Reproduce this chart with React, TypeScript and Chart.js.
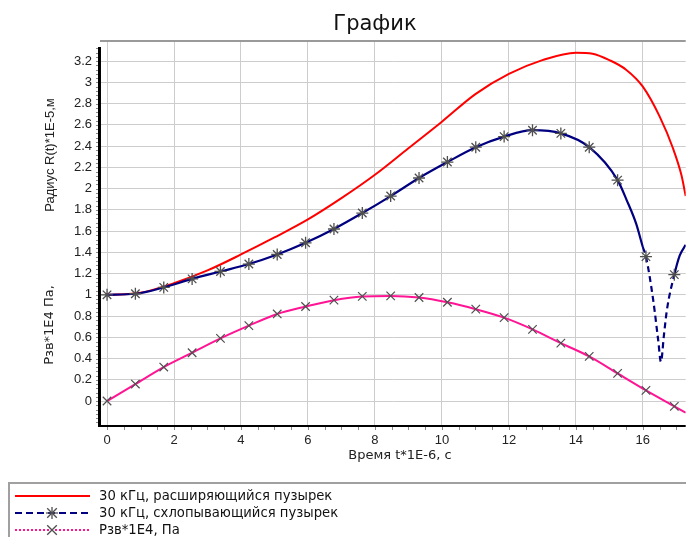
import React, { useEffect, useRef } from "react";
import { Chart, registerables } from "chart.js";

Chart.register(...registerables);

const TITLE = "График";
const X_TITLE = "Время t*1E-6, с";
const Y_TITLE_TOP = "Радиус R(t)*1E-5,м";
const Y_TITLE_BOTTOM = "Рзв*1E4 Па,";
const SERIES_NAMES = [
  "30 кГц, расширяющийся пузырек",
  "30 кГц, схлопывающийся пузырек",
  "Рзв*1E4,  Па",
];

const X_TICKS = [0, 2, 4, 6, 8, 10, 12, 14, 16];
const Y_TICKS = [0, 0.2, 0.4, 0.6, 0.8, 1, 1.2, 1.4, 1.6, 1.8, 2, 2.2, 2.4, 2.6, 2.8, 3, 3.2];

// Red: expanding bubble
const redT = [0, 1, 2, 3, 4, 5, 6, 7, 8, 9, 10, 11, 12, 13, 14, 14.5, 15, 15.5, 16, 16.5, 16.9, 17.15, 17.28];
const redR = [1.0, 1.02, 1.11, 1.23, 1.38, 1.54, 1.71, 1.91, 2.13, 2.38, 2.63, 2.89, 3.08, 3.21, 3.28, 3.27, 3.21, 3.12, 2.96, 2.68, 2.38, 2.13, 1.93];

// Blue: collapsing bubble (marked points)
const blueMarkT = [0, 0.847, 1.694, 2.541, 3.388, 4.235, 5.082, 5.929, 6.776, 7.623, 8.47, 9.317, 10.164, 11.011, 11.858, 12.705, 13.552, 14.399, 15.246, 16.093, 16.94];
const blueMarkR = [1.0, 1.01, 1.07, 1.15, 1.22, 1.29, 1.38, 1.49, 1.62, 1.77, 1.93, 2.1, 2.25, 2.39, 2.49, 2.55, 2.52, 2.39, 2.08, 1.36, 1.19];
// Blue: extra points between markers
const blueLineT = [15.52, 15.8, 16.0, 16.31, 16.46, 16.54, 16.63, 16.72, 17.1, 17.28];
const blueLineR = [1.89, 1.67, 1.45, 0.95, 0.57, 0.37, 0.62, 0.86, 1.37, 1.47];

// Pink: acoustic pressure
const pinkMarkT = [0, 0.847, 1.694, 2.541, 3.388, 4.235, 5.082, 5.929, 6.776, 7.623, 8.47, 9.317, 10.164, 11.011, 11.858, 12.705, 13.552, 14.399, 15.246, 16.093, 16.94];
const pinkMarkP = [0, 0.16, 0.32, 0.455, 0.59, 0.71, 0.82, 0.89, 0.95, 0.985, 0.99, 0.975, 0.93, 0.865, 0.785, 0.675, 0.545, 0.42, 0.26, 0.1, -0.05];
const pinkLineT = [17.28];
const pinkLineP = [-0.11];

const RED = "#ff0000";
const BLUE = "#000080";
const PINK = "#ff1493";
const MARK = "#4f4f4f";
const FONT = "Liberation Sans";
const FONT2 = "DejaVu Sans";

function pts(t: number[], v: number[]) {
  return t.map((x, i) => ({ x, y: v[i] }));
}
function merged(t1: number[], v1: number[], t2: number[], v2: number[]) {
  return [...pts(t1, v1), ...pts(t2, v2)].sort((a, b) => a.x - b.x);
}

const decor = {
  id: "decor",
  afterDraw(chart: any) {
    const { ctx, chartArea: a, scales } = chart;
    const xs = scales.x;
    const ys = scales.y;
    ctx.save();
    // top gray frame
    ctx.strokeStyle = "#9a9a9a";
    ctx.lineWidth = 2;
    ctx.beginPath();
    ctx.moveTo(a.left - 1, a.top);
    ctx.lineTo(a.right, a.top);
    ctx.stroke();
    // minor ticks
    ctx.strokeStyle = "#8a8a8a";
    ctx.lineWidth = 1;
    ctx.beginPath();
    for (let i = -5; i <= 84; i++) {
      const py = Math.round(ys.getPixelForValue(i * 0.04)) + 0.5;
      if (py < a.top + 6 || py > a.bottom - 2) continue;
      ctx.moveTo(a.left - 5, py);
      ctx.lineTo(a.left - 2, py);
    }
    for (let i = 0; i <= 34; i++) {
      const px = Math.round(xs.getPixelForValue(i * 0.5)) + 0.5;
      if (px > a.right) continue;
      ctx.moveTo(px, a.bottom + 1);
      ctx.lineTo(px, a.bottom + 4);
    }
    ctx.stroke();
    // black axis lines
    ctx.strokeStyle = "#000";
    ctx.lineWidth = 3;
    ctx.beginPath();
    ctx.moveTo(a.left - 1.5, a.top + 6);
    ctx.lineTo(a.left - 1.5, a.bottom);
    ctx.stroke();
    ctx.lineWidth = 2;
    ctx.beginPath();
    ctx.moveTo(a.left - 3, a.bottom);
    ctx.lineTo(a.right, a.bottom);
    ctx.stroke();
    // texts
    ctx.fillStyle = "#111";
    ctx.textAlign = "center";
    ctx.textBaseline = "middle";
    ctx.font = `21px "${FONT2}"`;
    ctx.fillText(TITLE, 375, 25);
    ctx.fillStyle = "#222";
    ctx.font = `13px "${FONT2}"`;
    ctx.fillText(X_TITLE, 400, 456);
    ctx.save();
    ctx.translate(50, 325);
    ctx.rotate(-Math.PI / 2);
    ctx.fillText(Y_TITLE_BOTTOM, 0, 0);
    ctx.restore();
    ctx.font = `13px "${FONT}"`;
    ctx.save();
    ctx.translate(50, 155);
    ctx.rotate(-Math.PI / 2);
    ctx.fillText(Y_TITLE_TOP, 0, 0);
    ctx.restore();
    ctx.restore();
  },
};

function LegendMark({ cx, cy, star }: { cx: number; cy: number; star: boolean }) {
  const r = 6;
  return (
    <g stroke={MARK} strokeWidth={1.3}>
      <line x1={cx - r * 0.8} y1={cy - r * 0.8} x2={cx + r * 0.8} y2={cy + r * 0.8} />
      <line x1={cx - r * 0.8} y1={cy + r * 0.8} x2={cx + r * 0.8} y2={cy - r * 0.8} />
      {star ? <line x1={cx - r} y1={cy} x2={cx + r} y2={cy} /> : null}
      {star ? <line x1={cx} y1={cy - r} x2={cx} y2={cy + r} /> : null}
    </g>
  );
}

export default function App() {
  const ref = useRef<HTMLCanvasElement>(null);

  useEffect(() => {
    const tickFont = { family: FONT, size: 13 };
    const chart = new Chart(ref.current as HTMLCanvasElement, {
      type: "line",
      data: {
        datasets: [
          {
            label: SERIES_NAMES[1] + " markers",
            data: pts(blueMarkT, blueMarkR),
            showLine: false,
            pointStyle: "star",
            pointRadius: 6,
            pointBorderColor: MARK,
            pointBackgroundColor: MARK,
            pointBorderWidth: 1.3,
            order: 0,
            clip: 8,
          } as any,
          {
            label: SERIES_NAMES[2] + " markers",
            data: pts(pinkMarkT, pinkMarkP),
            showLine: false,
            pointStyle: "crossRot",
            pointRadius: 6,
            pointBorderColor: MARK,
            pointBorderWidth: 1.2,
            order: 1,
            clip: 8,
          } as any,
          {
            label: SERIES_NAMES[1],
            data: merged(blueMarkT, blueMarkR, blueLineT, blueLineR),
            borderColor: BLUE,
            borderWidth: 2.2,
            pointRadius: 0,
            cubicInterpolationMode: "monotone",
            segment: {
              borderDash: (c: any) =>
                c.p0.parsed.x >= 15.95 && c.p1.parsed.x <= 16.95 ? [6, 4] : undefined,
            },
            order: 2,
          } as any,
          {
            label: SERIES_NAMES[0],
            data: pts(redT, redR),
            borderColor: RED,
            borderWidth: 2,
            pointRadius: 0,
            cubicInterpolationMode: "monotone",
            order: 3,
          } as any,
          {
            label: SERIES_NAMES[2],
            data: merged(pinkMarkT, pinkMarkP, pinkLineT, pinkLineP),
            borderColor: PINK,
            borderWidth: 2,
            pointRadius: 0,
            cubicInterpolationMode: "monotone",
            order: 4,
          } as any,
        ],
      },
      options: {
        animation: false,
        responsive: false,
        maintainAspectRatio: false,
        layout: { padding: { top: 41, left: 0, right: 0, bottom: 0 } },
        plugins: {
          legend: { display: false },
          title: { display: false },
          tooltip: { enabled: false },
        },
        scales: {
          x: {
            type: "linear",
            min: -0.18,
            max: 17.28,
            afterBuildTicks: (s: any) => {
              s.ticks = X_TICKS.map((v) => ({ value: v }));
            },
            afterFit: (s: any) => {
              s.height = 49;
            },
            grid: { color: "#cdcdcd", lineWidth: 1, drawTicks: false },
            border: { display: false },
            ticks: {
              padding: 7,
              font: tickFont,
              color: "#222",
              maxRotation: 0,
              autoSkip: false,
              callback: (v: any) => String(v),
            },
          },
          y: {
            type: "linear",
            min: -0.235,
            max: 3.39,
            afterBuildTicks: (s: any) => {
              s.ticks = Y_TICKS.map((v) => ({ value: v }));
            },
            afterFit: (s: any) => {
              s.width = 101;
            },
            grid: { color: "#cdcdcd", lineWidth: 1, drawTicks: false },
            border: { display: false },
            ticks: {
              padding: 9,
              font: tickFont,
              color: "#222",
              autoSkip: false,
              callback: (v: any) => String(Math.round(Number(v) * 10) / 10),
            },
          },
        },
      } as any,
      plugins: [decor as any],
    });
    return () => chart.destroy();
  }, []);

  const textStyle: React.CSSProperties = {
    position: "absolute",
    left: 99,
    fontFamily: FONT2,
    fontSize: 13.2,
    lineHeight: "16px",
    color: "#111",
    whiteSpace: "nowrap",
  };

  return (
    <div
      style={{
        position: "absolute",
        left: 0,
        top: 0,
        width: 686,
        height: 537,
        overflow: "hidden",
        background: "#fff",
      }}
    >
      <canvas
        ref={ref}
        width={693}
        height={475}
        style={{ position: "absolute", left: 0, top: 0, width: 693, height: 475 }}
      />
      <div
        style={{
          position: "absolute",
          left: 8,
          top: 482,
          width: 720,
          height: 80,
          border: "2px solid #a0a0a0",
          boxSizing: "border-box",
        }}
      />
      <svg
        width={686}
        height={537}
        style={{ position: "absolute", left: 0, top: 0 }}
      >
        <line x1={15} y1={496} x2={90} y2={496} stroke={RED} strokeWidth={2} />
        <line x1={15} y1={513} x2={90} y2={513} stroke={BLUE} strokeWidth={2} strokeDasharray="7 4" />
        <LegendMark cx={52} cy={513} star={true} />
        <line x1={15} y1={530} x2={90} y2={530} stroke={PINK} strokeWidth={2} strokeDasharray="2 2" />
        <LegendMark cx={52} cy={530} star={false} />
      </svg>
      <div style={{ ...textStyle, top: 488 }}>{SERIES_NAMES[0]}</div>
      <div style={{ ...textStyle, top: 505 }}>{SERIES_NAMES[1]}</div>
      <div style={{ ...textStyle, top: 522 }}>{SERIES_NAMES[2]}</div>
    </div>
  );
}
